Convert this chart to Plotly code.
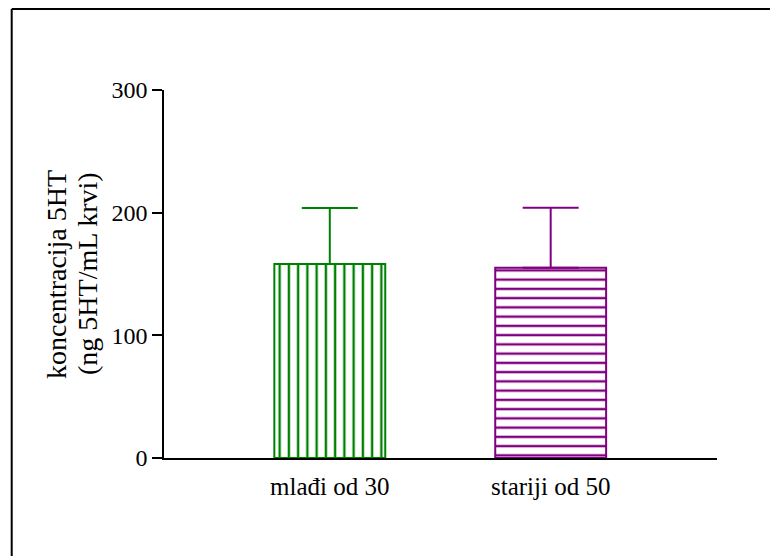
import plotly.graph_objects as go

categories = ["mlađi od 30", "stariji od 50"]
means = [158.2, 155.1]
errors_up = [45.6, 48.9]
colors = ["#008000", "#800080"]
patterns = ["|", "-"]
y_ticks = [0, 100, 200, 300]
y_title_lines = ["koncentracija 5HT", "(ng 5HT/mL krvi)"]

fig = go.Figure()
for i, cat in enumerate(categories):
    fig.add_trace(go.Bar(
        x=[cat], y=[means[i]], width=0.502,
        marker=dict(color="white", line=dict(color=colors[i], width=2),
                    pattern=dict(shape=patterns[i], fgcolor=colors[i], bgcolor="white",
                                 fgopacity=1, size=9.25, solidity=0.26)),
        error_y=dict(type="data", array=[errors_up[i]], arrayminus=[0], symmetric=False,
                     color=colors[i], thickness=2, width=28),
        showlegend=False,
    ))

annotations = []
for txt, xp in zip(y_title_lines, [-0.1953, -0.1392]):
    annotations.append(dict(text=txt, textangle=-90, x=xp, y=0.5, xref="paper", yref="paper",
                            showarrow=False, xanchor="center", yanchor="middle",
                            font=dict(size=28)))

fig.update_layout(
    width=778, height=556,
    margin=dict(l=156, r=69, t=82, b=106),
    plot_bgcolor="white", paper_bgcolor="white",
    font=dict(family="Liberation Serif", size=24, color="black"),
    xaxis=dict(range=[-0.7506, 1.753], showline=True, linecolor="black", linewidth=1.5,
               ticks="", showgrid=False, ticklabelstandoff=5,
               tickfont=dict(size=25)),
    yaxis=dict(range=[0, 300], tickvals=y_ticks, showline=True, linecolor="black",
               linewidth=1.5, ticks="outside", ticklen=10, tickwidth=1.5, tickcolor="black",
               showgrid=False, zeroline=False, tickfont=dict(size=24)),
    annotations=annotations,
    shapes=[
        dict(type="line", xref="paper", yref="paper", x0=-0.2754, x1=-0.2754, y0=-0.4, y1=1.2201,
             line=dict(color="black", width=2)),
        dict(type="line", xref="paper", yref="paper", x0=-0.2754, x1=1.2, y0=1.2201, y1=1.2201,
             line=dict(color="black", width=2)),
    ],
)

fig.write_html("out.html")
